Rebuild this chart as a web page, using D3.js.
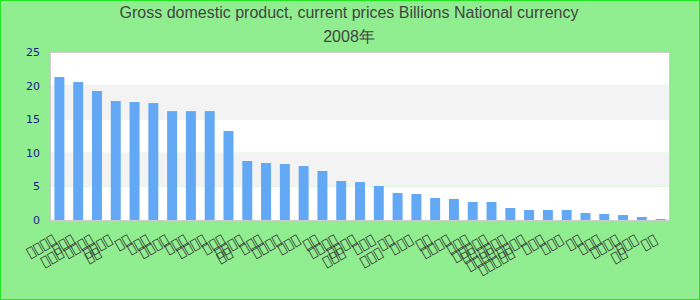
<!DOCTYPE html>
<html><head><meta charset="utf-8">
<script src="https://cdn.jsdelivr.net/npm/d3@7/dist/d3.min.js"></script>
<style>
html,body{margin:0;padding:0;}
body{width:700px;height:300px;overflow:hidden;}
</style></head>
<body><svg id="c" width="700" height="300"></svg>
<script>
const titleLines = ["Gross domestic product, current prices Billions National currency", "2008年"];
const B = "\uE000";
const categories = [
  B+B+B+B+"\n"+B+B+B, B+B+B, B+B+B+B+"\n"+B+B, B+B+B+B, B+B, B+B+B, B+B+B+B, B+B+B,
  B+B+B+B, B+B+B+"\n"+B+B, B+B+B+B, B+B+B, B+B+B+B, B+B+B, B+B, B+B+B+B+"\n"+B+B+B,
  B+B+B+B, B+B+B+"\n"+B+B+B, B+B, B+B+B, B+B, B+B+B+B, B+B+B+"\n"+B+B, B+B+B+B+B+"\n"+B+B+B+B,
  B+B+B+B+"\n"+B+B+B+B+B, B+B+B+B, B+B+B, B+B+B, B+B, B+B+B, B+B+B+B+"\n"+B+B, B+B+B, B+B
];
const values = [21.28, 20.54, 19.2, 17.7, 17.56, 17.4, 16.2, 16.2, 16.2, 13.24, 8.78, 8.48, 8.33, 8.03, 7.29,
  5.8, 5.65, 5.06, 4.02, 3.87, 3.27, 3.13, 2.68, 2.68, 1.79, 1.49, 1.49, 1.49, 1.04, 0.89, 0.74, 0.45, 0.15];
const yTicks = [0, 5, 10, 15, 20, 25];

const W = 700, H = 300;
const m = {left: 50, right: 30, top: 52, bottom: 80};
const svg = d3.select("#c");

svg.append("rect").attr("x", 0.5).attr("y", 0.5).attr("width", W - 1).attr("height", H - 1)
  .attr("fill", "#90ee90").attr("stroke", "#22e622").attr("stroke-width", 1);

const x = d3.scaleBand().domain(d3.range(categories.length)).range([m.left, W - m.right]).paddingInner(0.47).paddingOuter(0.235);
const y = d3.scaleLinear().domain([0, 25]).range([H - m.bottom, m.top]);

// split areas
const g = svg.append("g");
for (let i = 0; i < yTicks.length - 1; i++) {
  g.append("rect").attr("x", m.left).attr("width", W - m.right - m.left)
    .attr("y", y(yTicks[i + 1])).attr("height", y(yTicks[i]) - y(yTicks[i + 1]))
    .attr("fill", (yTicks.length - 2 - i) % 2 === 1 ? "#f3f3f3" : "#ffffff");
}
g.append("rect").attr("x", m.left + 0.5).attr("y", m.top + 0.5).attr("width", W - m.right - m.left - 1)
  .attr("height", H - m.bottom - m.top).attr("fill", "none").attr("stroke", "#cccccc");

// bars
svg.append("g").selectAll("rect").data(values).join("rect")
  .attr("x", (d, i) => x(i)).attr("width", x.bandwidth())
  .attr("y", d => y(d)).attr("height", d => y(0) - y(d)).attr("fill", "#62a8f5");

// y axis
const ya = svg.append("g").attr("transform", `translate(${m.left},0)`)
  .call(d3.axisLeft(y).tickValues(yTicks).tickSize(0).tickPadding(10));
ya.select(".domain").remove();
ya.selectAll("text").attr("fill", "#1a1a8c").style("font-family", "DejaVu Sans").style("font-size", "11px");

// x axis labels
const xa = svg.append("g").attr("transform", `translate(0,${H - m.bottom})`)
  .call(d3.axisBottom(x).tickSize(0).tickFormat(""));
xa.select(".domain").remove();
const lh = 15;
svg.append("g").selectAll("text").data(categories).join("text")
  .attr("transform", (d, i) => `translate(${x(i) + x.bandwidth() / 2 - 5},${H - m.bottom + 18}) rotate(-30)`)
  .attr("text-anchor", "end").attr("fill", "#333").style("font-family", "DejaVu Sans").style("font-size", "13px")
  .each(function (d) {
    const lines = d.split("\n");
    const t = d3.select(this);
    lines.forEach((ln, k) => {
      t.append("tspan").attr("x", 0).attr("y", k * lh).attr("dy", "0.35em").text(ln);
    });
  });

// title
svg.append("g").selectAll("text").data(titleLines).join("text")
  .attr("x", 349).attr("y", (d, i) => 18 + i * 24).attr("text-anchor", "middle")
  .attr("fill", "#444").style("font-family", "Liberation Sans Narrow, Arial Narrow, sans-serif").style("font-size", "16px")
  .text(d => d);
</script></body></html>
